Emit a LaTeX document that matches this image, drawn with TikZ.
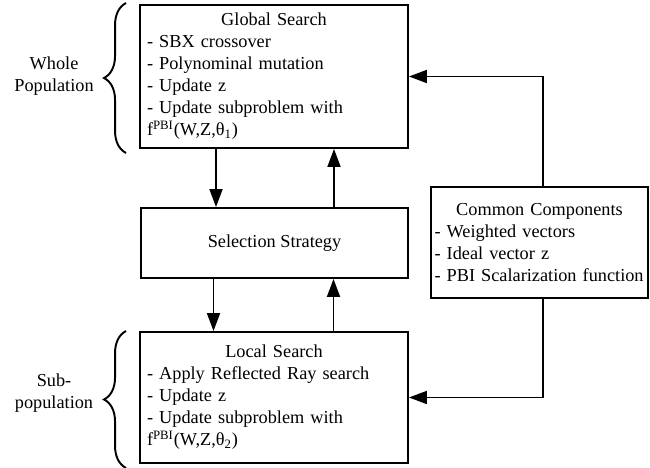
\documentclass[tikz,border=0pt]{standalone}
\usepackage{fontspec}
\setmainfont{Liberation Serif}
\usetikzlibrary{arrows.meta,decorations.pathreplacing,positioning}

\begin{document}
\begin{tikzpicture}[
  every node/.style={font=\fontsize{10.4}{12.5}\selectfont},
  stagebox/.style={draw, line width=1.1pt, inner xsep=0.14cm, inner ysep=0pt, align=left},
  flow/.style={line width=1.1pt, -{Triangle[length=0.36cm,width=0.26cm]}},
  popbrace/.style={line width=1.1pt, decorate, decoration={brace, amplitude=0.44cm}}
]
\useasboundingbox (0,0) rectangle (13,9.36);

% Global Search Block
\node[stagebox, text width=5.08cm, minimum height=2.86cm] (glob) at (5.48,7.83)
  {\makebox[\hsize]{Global Search}\\- SBX crossover\\- Polynominal mutation\\- Update z\\- Update subproblem with\\f\textsuperscript{PBI}(W,Z,θ\textsubscript{1})};

% Selection Strategy
\node[stagebox, align=center, minimum width=5.34cm, minimum height=1.4cm] (sel) at (5.49,4.5) {Selection Strategy};

% Local Search Block
\node[stagebox, text width=5.08cm, minimum height=2.62cm] (loc) at (5.48,1.41)
  {\makebox[\hsize]{Local Search}\\- Apply Reflected Ray search\\- Update z\\- Update subproblem with\\f\textsuperscript{PBI}(W,Z,θ\textsubscript{2})};

% Common Components
\node[stagebox, inner xsep=0.07cm, text width=4.2cm, minimum height=2.22cm] (comm) at (10.79,4.51)
  {\makebox[\hsize]{Common Components}\\- Weighted vectors\\- Ideal vector z\\- PBI Scalarization function};

% Arrows between search and selection
\draw[flow] ([xshift=-1.16cm]glob.south) -- ([xshift=-1.16cm]glob.south |- sel.north);
\draw[flow] ([xshift=1.19cm]sel.north) -- ([xshift=1.19cm]sel.north |- glob.south);
\draw[flow] ([xshift=-1.22cm]sel.south) -- ([xshift=-1.22cm]sel.south |- loc.north);
\draw[flow] ([xshift=1.19cm]loc.north) -- ([xshift=1.19cm]loc.north |- sel.south);

% Common components feed both searches
\draw[flow] ([xshift=0.07cm]comm.north) |- (glob.east);
\draw[flow] ([xshift=0.07cm]comm.south) |- (loc.east);

% Population braces
\draw[popbrace] ([xshift=-0.26cm,yshift=-0.08cm]glob.south west) -- ([xshift=-0.26cm,yshift=0.02cm]glob.north west);
\draw[popbrace] ([xshift=-0.26cm,yshift=-0.08cm]loc.south west) -- ([xshift=-0.26cm]loc.north west);
\node[align=center] (whole) at ([xshift=-1.7cm]glob.west) {Whole\\Population};
\node[align=center] (sub) at ([xshift=-1.7cm,yshift=0.09cm]loc.west) {Sub-\\population};

\end{tikzpicture}
\end{document}
